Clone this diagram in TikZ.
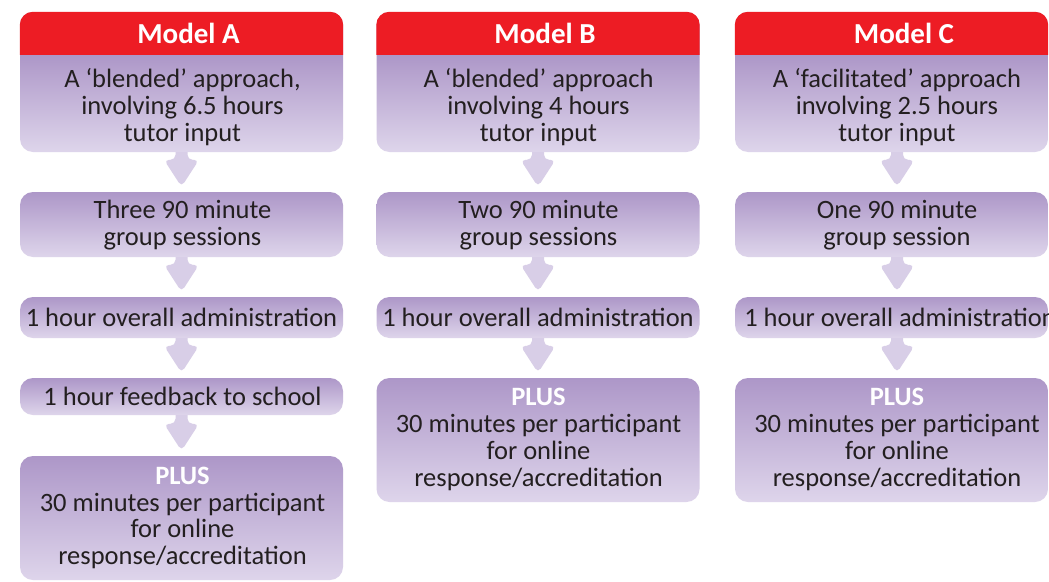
\documentclass[tikz,border=0pt]{standalone}
\usepackage{fontspec}
\setmainfont{Carlito}
\usetikzlibrary{calc}
\definecolor{hdrred}{HTML}{ED1C24}
\definecolor{ptop}{HTML}{AD97C8}
\definecolor{pbot}{HTML}{DED5EB}
\definecolor{arrc}{HTML}{D8CEE7}
\definecolor{txt}{HTML}{231F20}
\pgfdeclareverticalshading{hdrshade}{100bp}{color(0bp)=(pbot); color(25bp)=(pbot); color(59.6bp)=(ptop); color(100bp)=(ptop)}
\pgfdeclarelayer{back}
\pgfdeclarelayer{bg}
\pgfsetlayers{back,bg,main}
\tikzset{
  pbox/.style={rounded corners=13pt, top color=ptop, bottom color=pbot, draw=none, inner sep=0pt, minimum width=323pt},
  hbox/.style={pbox, shading=hdrshade, minimum height=140pt},
  btxt/.style={font=\fontsize{26.5}{26.8}\selectfont, text=txt, align=center, inner sep=0pt},
  htxt/.style={font=\fontsize{29}{30}\selectfont\bfseries, text=white, inner sep=0pt},
  fatarrow/.style={fill=arrc, rounded corners=5pt},
}
\newcommand\plustext{{\bfseries\color{white}PLUS}\\30 minutes per participant\\for online\\response/accreditation}
% #1 from node, #2 to node, #3 x offset
\newcommand\fatarr[3]{%
  \begin{pgfonlayer}{bg}
  \fill[fatarrow] ($(#1.south)+(#3-6,-6)$) -- ($(#2.north)+(#3-6,-32)$) -- ($(#2.north)+(#3-17.5,-32)$)
    -- ($(#2.north)+(#3,-5)$) -- ($(#2.north)+(#3+17.5,-32)$) -- ($(#2.north)+(#3+6,-32)$)
    -- ($(#1.south)+(#3+6,-6)$) -- cycle;
  \end{pgfonlayer}}
\newcommand\header[1]{%
  \begin{scope}
    \clip (#1.north west) rectangle ($(#1.north east)+(0,43)$);
    \fill[hdrred, rounded corners=13pt] (#1.north west) rectangle (#1.south east);
  \end{scope}}
\begin{document}
\begin{tikzpicture}[x=1pt, y=-1pt]
\useasboundingbox (0,0) rectangle (1049,581);
\clip (0,0) rectangle (1049,581);
\begin{pgfonlayer}{back}
\fill[white] (0,0) rectangle (1049,581);
\end{pgfonlayer}

% ---- Column A ----
\node[hbox] (A0) at (181.5,82) {};
\header{A0}
\node[htxt] (hA) at (188.5,33) {Model A};
\node[btxt] (tA0) at (182.5,107) {A ‘blended’ approach,\\involving 6.5 hours\\tutor input};
\node[pbox, minimum height=65pt] (A2) at (181.5,224.5) {};
\node[btxt] (tA2) at (182.5,225) {Three 90 minute\\group sessions};
\node[pbox, minimum height=41pt] (A3) at (181.5,317.5) {};
\node[btxt] (tA3) at (181.5,317) {1 hour overall administration};
\node[pbox, minimum height=37pt] (A4) at (181.5,396.5) {};
\node[btxt] (tA4) at (182.5,396.5) {1 hour feedback to school};
\node[pbox, minimum height=124pt] (A5) at (181.5,518) {};
\node[btxt] (tA5) at (182.5,518) {\plustext};

% ---- Column B ----
\node[hbox] (B0) at (538,82) {};
\header{B0}
\node[htxt] (hB) at (545,33) {Model B};
\node[btxt] (tB0) at (538.5,107) {A ‘blended’ approach\\involving 4 hours\\tutor input};
\node[pbox, minimum height=65pt] (B2) at (538,224.5) {};
\node[btxt] (tB2) at (538.5,225) {Two 90 minute\\group sessions};
\node[pbox, minimum height=41pt] (B3) at (538,317.5) {};
\node[btxt] (tB3) at (538,317) {1 hour overall administration};
\node[pbox, minimum height=124pt] (B4) at (538,440) {};
\node[btxt] (tB4) at (538.5,439.5) {\plustext};

% ---- Column C ----
\node[hbox, minimum width=313pt] (C0) at (891.5,82) {};
\header{C0}
\node[htxt] (hC) at (904,33) {Model C};
\node[btxt] (tC0) at (897,107) {A ‘facilitated’ approach\\involving 2.5 hours\\tutor input};
\node[pbox, minimum width=313pt, minimum height=65pt] (C2) at (891.5,224.5) {};
\node[btxt] (tC2) at (897,225) {One 90 minute\\group session};
\node[pbox, minimum width=313pt, minimum height=41pt] (C3) at (891.5,317.5) {};
\node[btxt] (tC3) at (900,317) {1 hour overall administration};
\node[pbox, minimum width=313pt, minimum height=124pt] (C4) at (891.5,440) {};
\node[btxt] (tC4) at (897,439.5) {\plustext};

% ---- Arrows ----
\fatarr{A0}{A2}{0}
\fatarr{A2}{A3}{0}
\fatarr{A3}{A4}{0}
\fatarr{A4}{A5}{0}
\fatarr{B0}{B2}{0}
\fatarr{B2}{B3}{0}
\fatarr{B3}{B4}{0}
\fatarr{C0}{C2}{5.5}
\fatarr{C2}{C3}{5.5}
\fatarr{C3}{C4}{5.5}
\end{tikzpicture}
\end{document}
